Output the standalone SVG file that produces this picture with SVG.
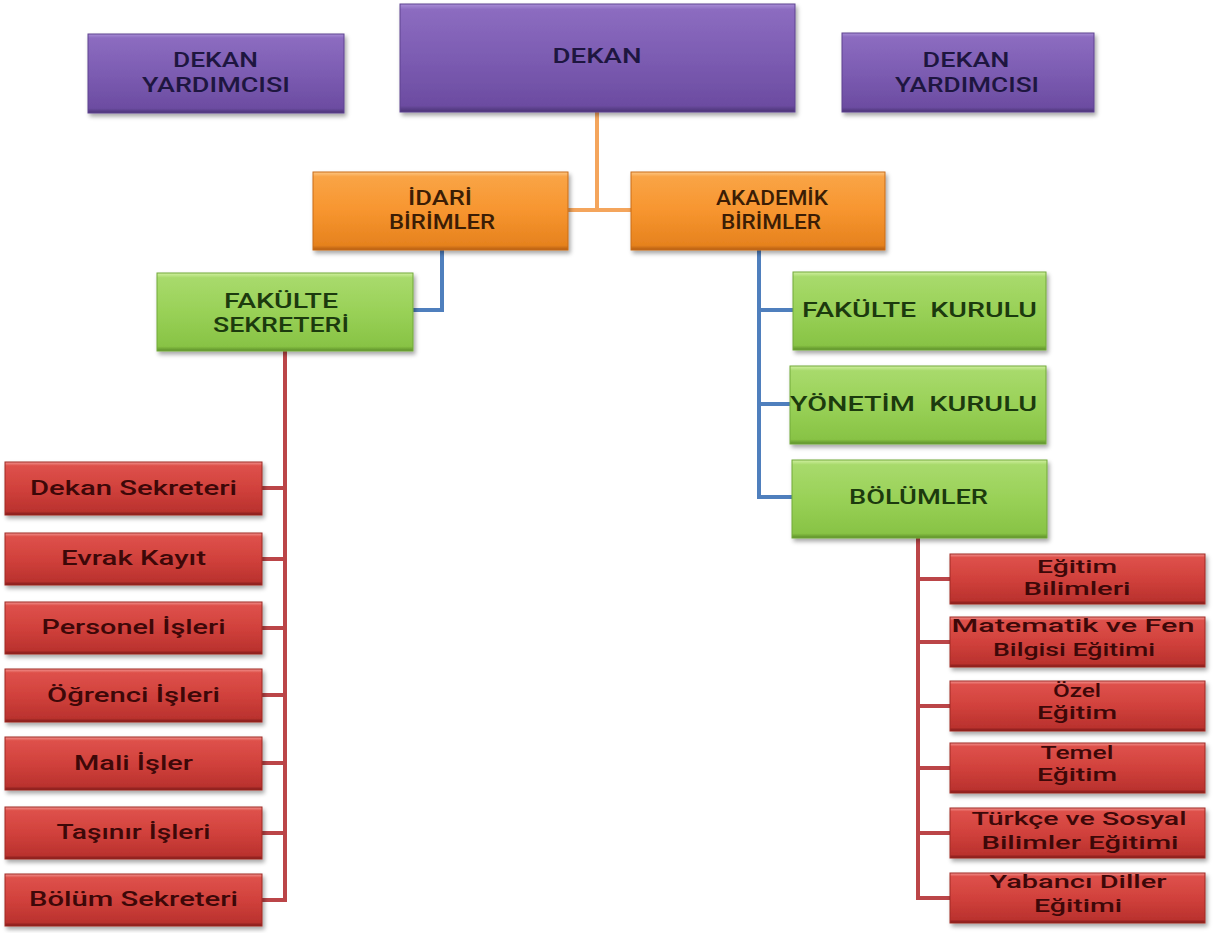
<svg xmlns="http://www.w3.org/2000/svg" width="1214" height="933" viewBox="0 0 1214 933">
<defs>
<linearGradient id="gp" x1="0" y1="0" x2="0" y2="1">
<stop offset="0" stop-color="#a88ed6"/><stop offset="0.05" stop-color="#8c6cc0"/><stop offset="0.5" stop-color="#7c5cb2"/><stop offset="0.94" stop-color="#6c4ca1"/><stop offset="1" stop-color="#4a3274"/>
</linearGradient>
<linearGradient id="go" x1="0" y1="0" x2="0" y2="1">
<stop offset="0" stop-color="#fdc684"/><stop offset="0.06" stop-color="#f9a446"/><stop offset="0.5" stop-color="#f7952f"/><stop offset="0.94" stop-color="#e6821e"/><stop offset="1" stop-color="#b35c10"/>
</linearGradient>
<linearGradient id="gg" x1="0" y1="0" x2="0" y2="1">
<stop offset="0" stop-color="#d0efa0"/><stop offset="0.06" stop-color="#a8da6c"/><stop offset="0.5" stop-color="#99d157"/><stop offset="0.94" stop-color="#88c345"/><stop offset="1" stop-color="#5c8e27"/>
</linearGradient>
<linearGradient id="gr" x1="0" y1="0" x2="0" y2="1">
<stop offset="0" stop-color="#f29590"/><stop offset="0.07" stop-color="#de514b"/><stop offset="0.5" stop-color="#d1413c"/><stop offset="0.93" stop-color="#ba322e"/><stop offset="1" stop-color="#7a1917"/>
</linearGradient>
<filter id="sh" x="-5%" y="-10%" width="115%" height="130%">
<feDropShadow dx="2" dy="3" stdDeviation="2" flood-color="#000" flood-opacity="0.35"/>
</filter>
</defs>
<style>
rect{filter:url(#sh);stroke-width:1}
.p{fill:url(#gp);stroke:#5e4290}
.o{fill:url(#go);stroke:#c96c18}
.g{fill:url(#gg);stroke:#73a93a}
.r{fill:url(#gr);stroke:#a02825}
text{font-family:Roboto,"Liberation Sans",sans-serif;font-weight:500;text-anchor:middle;white-space:pre}
.tp{fill:#1e1640;font-size:21px}
.to{fill:#3b1d05;font-size:20px}
.tg{fill:#1c3a0e;font-size:20px}
.tr{fill:#3d0808;font-size:20px}
.ts{fill:#3d0808;font-size:18.5px}
.c{fill:none;stroke-width:4;stroke-linejoin:miter}
.co{stroke:#f4a55c}
.cb{stroke:#4f7fbd}
.cr{stroke:#bb4548}
</style>
<g id="connectors">
<path class="c co" d="M597 112 V210 M568 210 H631"/>
<path class="c cb" d="M442 250 V310 H413"/>
<path class="c cb" d="M759 250 V497 H792 M759 310 H793 M759 404 H790"/>
<path class="c cr" d="M285 351 V900 H262 M262 488 H285 M262 559 H285 M262 628 H285 M262 695 H285 M262 763 H285 M262 833 H285"/>
<path class="c cr" d="M918 538 V898 H950 M918 579 H950 M918 642 H950 M918 706 H950 M918 768 H950 M918 833 H950"/>
</g>
<g id="dekan-yardimcisi-1">
<rect class="p" x="88" y="34" width="256" height="79"/>
<text class="tp" x="215.5" y="67" textLength="85" lengthAdjust="spacingAndGlyphs">DEKAN</text>
<text class="tp" x="216" y="92" textLength="148" lengthAdjust="spacingAndGlyphs">YARDIMCISI</text>
</g>
<g id="dekan">
<rect class="p" x="400" y="4" width="395" height="108"/>
<text class="tp" x="597" y="63" textLength="89" lengthAdjust="spacingAndGlyphs">DEKAN</text>
</g>
<g id="dekan-yardimcisi-2">
<rect class="p" x="842" y="33" width="252" height="79"/>
<text class="tp" x="966" y="67" textLength="87" lengthAdjust="spacingAndGlyphs">DEKAN</text>
<text class="tp" x="967" y="92" textLength="144" lengthAdjust="spacingAndGlyphs">YARDIMCISI</text>
</g>
<g id="idari-birimler">
<rect class="o" x="313" y="172" width="255" height="78"/>
<text class="to" x="440" y="205" textLength="64" lengthAdjust="spacingAndGlyphs">İDARİ</text>
<text class="to" x="442" y="229" textLength="106" lengthAdjust="spacingAndGlyphs">BİRİMLER</text>
</g>
<g id="akademik-birimler">
<rect class="o" x="631" y="172" width="254" height="78"/>
<text class="to" x="772" y="205" textLength="112" lengthAdjust="spacingAndGlyphs">AKADEMİK</text>
<text class="to" x="771" y="229" textLength="100" lengthAdjust="spacingAndGlyphs">BİRİMLER</text>
</g>
<g id="fakulte-sekreteri">
<rect class="g" x="157" y="273" width="256" height="78"/>
<text class="tg" x="281" y="308" textLength="114" lengthAdjust="spacingAndGlyphs">FAKÜLTE</text>
<text class="tg" x="281" y="332" textLength="136" lengthAdjust="spacingAndGlyphs">SEKRETERİ</text>
</g>
<g id="fakulte-kurulu">
<rect class="g" x="793" y="272" width="253" height="78"/>
<text class="tg" x="919.5" y="317" textLength="235" lengthAdjust="spacingAndGlyphs">FAKÜLTE  KURULU</text>
</g>
<g id="yonetim-kurulu">
<rect class="g" x="790" y="366" width="256" height="78"/>
<text class="tg" x="913.5" y="411" textLength="247" lengthAdjust="spacingAndGlyphs">YÖNETİM  KURULU</text>
</g>
<g id="bolumler">
<rect class="g" x="792" y="460" width="255" height="78"/>
<text class="tg" x="918.5" y="504" textLength="139" lengthAdjust="spacingAndGlyphs">BÖLÜMLER</text>
</g>
<g id="dekan-sekreteri">
<rect class="r" x="5" y="462" width="257" height="53"/>
<text class="tr" x="133.5" y="495" textLength="207" lengthAdjust="spacingAndGlyphs">Dekan Sekreteri</text>
</g>
<g id="evrak-kayit">
<rect class="r" x="5" y="533" width="257" height="52"/>
<text class="tr" x="133.5" y="565" textLength="145" lengthAdjust="spacingAndGlyphs">Evrak Kayıt</text>
</g>
<g id="personel-isleri">
<rect class="r" x="5" y="602" width="257" height="52"/>
<text class="tr" x="133.5" y="634" textLength="184" lengthAdjust="spacingAndGlyphs">Personel İşleri</text>
</g>
<g id="ogrenci-isleri">
<rect class="r" x="5" y="669" width="257" height="53"/>
<text class="tr" x="133.5" y="702" textLength="173" lengthAdjust="spacingAndGlyphs">Öğrenci İşleri</text>
</g>
<g id="mali-isler">
<rect class="r" x="5" y="737" width="257" height="53"/>
<text class="tr" x="133.5" y="770" textLength="119" lengthAdjust="spacingAndGlyphs">Mali İşler</text>
</g>
<g id="tasinir-isleri">
<rect class="r" x="5" y="807" width="257" height="52"/>
<text class="tr" x="133.5" y="839" textLength="154" lengthAdjust="spacingAndGlyphs">Taşınır İşleri</text>
</g>
<g id="bolum-sekreteri">
<rect class="r" x="5" y="874" width="257" height="52"/>
<text class="tr" x="133.5" y="906" textLength="209" lengthAdjust="spacingAndGlyphs">Bölüm Sekreteri</text>
</g>
<g id="egitim-bilimleri">
<rect class="r" x="950" y="554" width="255" height="50"/>
<text class="ts" x="1077" y="573" textLength="80" lengthAdjust="spacingAndGlyphs">Eğitim</text>
<text class="ts" x="1077" y="595" textLength="107" lengthAdjust="spacingAndGlyphs">Bilimleri</text>
</g>
<g id="matematik-fen">
<rect class="r" x="950" y="617" width="255" height="50"/>
<text class="ts" x="1073" y="632" textLength="243" lengthAdjust="spacingAndGlyphs">Matematik ve Fen</text>
<text class="ts" x="1074" y="656" textLength="162" lengthAdjust="spacingAndGlyphs">Bilgisi Eğitimi</text>
</g>
<g id="ozel-egitim">
<rect class="r" x="950" y="681" width="255" height="50"/>
<text class="ts" x="1077" y="697" textLength="48" lengthAdjust="spacingAndGlyphs">Özel</text>
<text class="ts" x="1077" y="719" textLength="80" lengthAdjust="spacingAndGlyphs">Eğitim</text>
</g>
<g id="temel-egitim">
<rect class="r" x="950" y="743" width="255" height="50"/>
<text class="ts" x="1077" y="759" textLength="73" lengthAdjust="spacingAndGlyphs">Temel</text>
<text class="ts" x="1077" y="781" textLength="80" lengthAdjust="spacingAndGlyphs">Eğitim</text>
</g>
<g id="turkce-sosyal">
<rect class="r" x="950" y="808" width="255" height="50"/>
<text class="ts" x="1079" y="825" textLength="215" lengthAdjust="spacingAndGlyphs">Türkçe ve Sosyal</text>
<text class="ts" x="1080" y="849" textLength="197" lengthAdjust="spacingAndGlyphs">Bilimler Eğitimi</text>
</g>
<g id="yabanci-diller">
<rect class="r" x="950" y="873" width="255" height="50"/>
<text class="ts" x="1078" y="888" textLength="177" lengthAdjust="spacingAndGlyphs">Yabancı Diller</text>
<text class="ts" x="1078" y="912" textLength="88" lengthAdjust="spacingAndGlyphs">Eğitimi</text>
</g>
</svg>
